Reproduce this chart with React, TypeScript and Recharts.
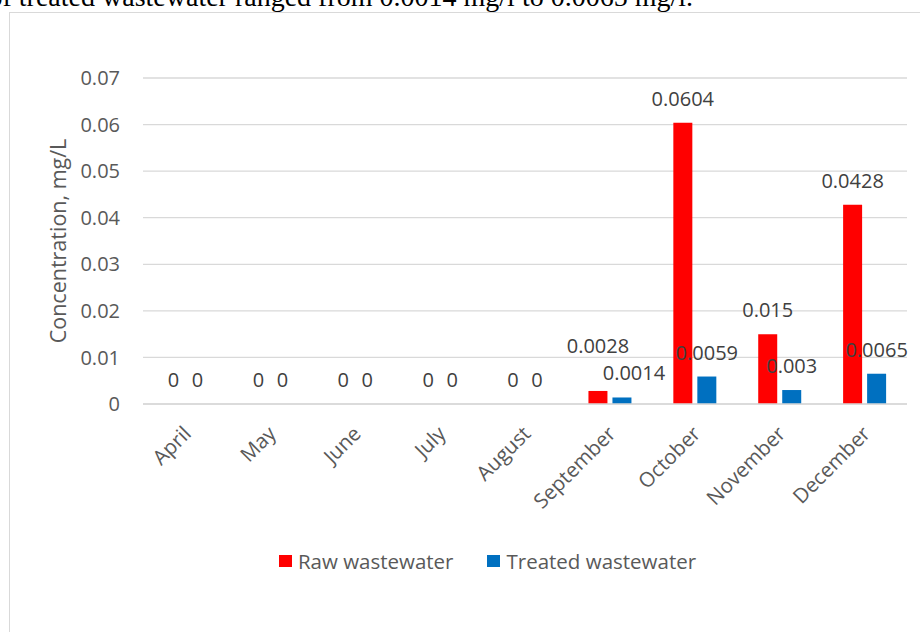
import React from "react"
import {
  BarChart,
  Bar,
  XAxis,
  YAxis,
  CartesianGrid,
  Legend,
  LabelList,
} from "recharts"

const months = [
  "April",
  "May",
  "June",
  "July",
  "August",
  "September",
  "October",
  "November",
  "December",
]
const rawWastewater = [0, 0, 0, 0, 0, 0.0028, 0.0604, 0.015, 0.0428]
const treatedWastewater = [0, 0, 0, 0, 0, 0.0014, 0.0059, 0.003, 0.0065]
const yTicks = [0, 0.01, 0.02, 0.03, 0.04, 0.05, 0.06, 0.07]

const RAW_COLOR = "#FF0000"
const TREATED_COLOR = "#0070C0"
const FONT = '"Open Sans", sans-serif'

// Excel nudged a couple of labels to keep them from colliding
const rawLift: Record<string, number> = { September: 21 }
const treatedShift: Record<string, number> = { September: 12 }

const data = months.map((month, i) => ({
  month,
  raw: rawWastewater[i],
  treated: treatedWastewater[i],
}))

// label value is the row index (see valueAccessor), so the nudges can be looked up by month
function valueLabel(values: number[], nudgeY: Record<string, number>, nudgeX: Record<string, number>) {
  return (props: any) => {
    const { x, y, width, value } = props
    const idx = Number(value)
    const m = months[idx]
    return (
      <text
        x={Number(x) + Number(width) / 2 + (nudgeX[m] || 0)}
        y={Number(y) - 17 - (nudgeY[m] || 0)}
        textAnchor="middle"
        fill="#404040"
        fontSize={20}
        fontFamily={FONT}
      >
        {String(values[idx])}
      </text>
    )
  }
}

function MonthTick(props: any) {
  const { x, y, payload } = props
  const tx = x + 7
  const ty = y + 29
  return (
    <text
      x={tx}
      y={ty}
      textAnchor="end"
      transform={`rotate(-45, ${tx}, ${ty})`}
      fill="#595959"
      fontSize={20.5}
      fontFamily={FONT}
    >
      {payload.value}
    </text>
  )
}

function AxisTitle(props: any) {
  const { viewBox } = props
  const cx = viewBox.x + 14
  const cy = viewBox.y + viewBox.height / 2
  return (
    <text
      x={cx}
      y={cy}
      transform={`rotate(-90, ${cx}, ${cy})`}
      textAnchor="middle"
      dominantBaseline="central"
      fill="#595959"
      fontSize={21.5}
      fontFamily={FONT}
    >
      Concentration, mg/L
    </text>
  )
}

function LegendBox(props: any) {
  const { payload = [] } = props
  return (
    <div
      style={{
        display: "flex",
        justifyContent: "center",
        alignItems: "center",
        gap: 34,
        height: 28,
        fontFamily: FONT,
        fontSize: 20.5,
        color: "#595959",
      }}
    >
      {payload.map((p: any) => (
        <div key={p.value} style={{ display: "flex", alignItems: "center", gap: 6 }}>
          <span style={{ width: 13, height: 12, background: p.color, display: "inline-block" }} />
          <span>{p.value}</span>
        </div>
      ))}
    </div>
  )
}

export default function App() {
  return (
    <div
      style={{
        position: "absolute",
        left: 0,
        top: 0,
        width: 920,
        height: 632,
        overflow: "hidden",
        background: "#fff",
      }}
    >
      <div
        style={{
          position: "absolute",
          left: -307,
          width: 1000,
          textAlign: "right",
          top: -19,
          fontFamily: '"Liberation Serif", serif',
          fontSize: 28,
          whiteSpace: "nowrap",
          color: "#000",
        }}
      >
        of treated wastewater ranged from 0.0014 mg/l to 0.0065 mg/l.
      </div>
      <div
        style={{
          position: "absolute",
          left: 9,
          top: 12,
          width: 955,
          height: 640,
          border: "1px solid #d9d9d9",
        }}
      >
        <BarChart
          width={955}
          height={640}
          data={data}
          margin={{ top: 65, right: 58, left: 33, bottom: 129 }}
          barSize={19}
          barGap={5}
        >
          <CartesianGrid vertical={false} stroke="#d9d9d9" strokeWidth={1.3} />
          <XAxis
            dataKey="month"
            height={120}
            axisLine={{ stroke: "#d9d9d9", strokeWidth: 1.3 }}
            tickLine={false}
            tickSize={0}
            interval={0}
            tick={<MonthTick />}
          />
          <YAxis
            width={100}
            domain={[0, 0.07]}
            ticks={yTicks}
            axisLine={false}
            tickLine={false}
            tickSize={0}
            tickMargin={23}
            tick={{ fill: "#595959", fontSize: 20, fontFamily: FONT }}
            label={<AxisTitle />}
          />
          <Legend
            verticalAlign="middle"
            wrapperStyle={{ top: 534, left: 0, width: 955 }}
            content={<LegendBox />}
          />
          <Bar
            dataKey="raw"
            name="Raw wastewater"
            fill={RAW_COLOR}
            minPointSize={0.01}
            isAnimationActive={false}
          >
            <LabelList
              valueAccessor={(_e: any, i: number) => i}
              content={valueLabel(rawWastewater, rawLift, {})}
            />
          </Bar>
          <Bar
            dataKey="treated"
            name="Treated wastewater"
            fill={TREATED_COLOR}
            minPointSize={0.01}
            isAnimationActive={false}
          >
            <LabelList
              valueAccessor={(_e: any, i: number) => i}
              content={valueLabel(treatedWastewater, {}, treatedShift)}
            />
          </Bar>
        </BarChart>
      </div>
    </div>
  )
}
